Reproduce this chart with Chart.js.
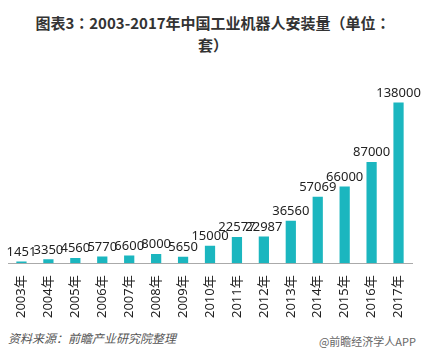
<!DOCTYPE html>
<html>
<head>
<meta charset="utf-8">
<script src="https://cdn.jsdelivr.net/npm/chart.js@4"></script>
<style>
  body { margin: 0; background: #fff; width: 426px; height: 360px; overflow: hidden; position: relative;
         font-family: "Noto Sans CJK SC", "Noto Sans", sans-serif; }
  #title { position: absolute; top: 12px; left: 0; width: 426px; text-align: center;
           font-family: "Noto Sans CJK TC", "Noto Sans CJK SC", sans-serif;
           font-size: 15px; font-weight: bold; color: #333; line-height: 22px; }
  #chartBox { position: absolute; left: 0; top: 60px; width: 426px; height: 262px; }
  #source { position: absolute; left: 8px; top: 329px; font-size: 12px; font-style: italic; color: #555; }
  #brand { position: absolute; right: 10px; top: 333px; font-size: 11px; color: #666; }
</style>
</head>
<body>
<div id="title">图表3：2003-2017年中国工业机器人安装量（单位：<br>套）</div>
<div id="chartBox"><canvas id="robotChart"></canvas></div>
<div id="source">资料来源：前瞻产业研究院整理</div>
<div id="brand">@前瞻经济学人APP</div>

<script>
// Chart data
const years = ['2003年', '2004年', '2005年', '2006年', '2007年', '2008年', '2009年', '2010年',
  '2011年', '2012年', '2013年', '2014年', '2015年', '2016年', '2017年'];
const installs = [1451, 3350, 4560, 5770, 6600, 8000, 5650, 15000,
  22577, 22987, 36560, 57069, 66000, 87000, 138000];

const barColor = '#1bb6bf';

// Draw value labels above each bar
const valueLabels = {
  id: 'valueLabels',
  afterDatasetsDraw(chart) {
    const ctx = chart.ctx;
    const meta = chart.getDatasetMeta(0);
    ctx.save();
    ctx.font = '13px "Noto Sans", "Noto Sans CJK SC", sans-serif';
    ctx.fillStyle = '#222';
    ctx.textAlign = 'center';
    ctx.textBaseline = 'bottom';
    meta.data.forEach((bar, i) => {
      ctx.fillText(installs[i], bar.x, bar.y - 3);
    });
    ctx.restore();
  }
};

document.addEventListener('DOMContentLoaded', () => {
  const ctx = document.getElementById('robotChart');
  new Chart(ctx, {
    type: 'bar',
    data: {
      labels: years,
      datasets: [{
        data: installs,
        backgroundColor: barColor,
        barPercentage: 0.38,
        categoryPercentage: 1
      }]
    },
    options: {
      responsive: true,
      maintainAspectRatio: false,
      animation: false,
      layout: { padding: { left: 8, right: 14, top: 10, bottom: 0 } },
      plugins: {
        legend: { display: false },
        tooltip: { enabled: false }
      },
      scales: {
        x: {
          grid: { display: false },
          border: { color: '#aaa', width: 1 },
          ticks: {
            minRotation: 90,
            maxRotation: 90,
            padding: 4,
            color: '#222',
            font: { size: 13, family: '"Noto Sans", "Noto Sans CJK SC", sans-serif' }
          }
        },
        y: {
          display: false,
          min: 0,
          max: 166000
        }
      }
    },
    plugins: [valueLabels]
  });
});
</script>
</body>
</html>
